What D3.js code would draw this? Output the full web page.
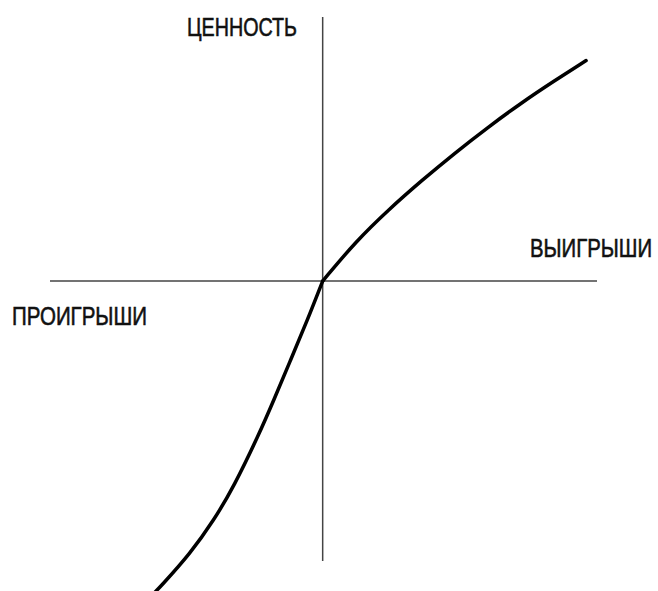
<!DOCTYPE html>
<html>
<head>
<meta charset="utf-8">
<script src="https://cdn.jsdelivr.net/npm/d3@7"></script>
<style>
	html, body { margin: 0; padding: 0; background: #fff; }
	svg { display: block; }
	.axis-line { stroke: #444; stroke-width: 1.5; }
	.value-curve { fill: none; stroke: #000; stroke-width: 3.5; stroke-linecap: round; }
	.axis-label { font-family: 'Liberation Sans Narrow', 'Liberation Sans', Arial, sans-serif; font-size: 26px; font-weight: normal; fill: #111; stroke: #111; stroke-width: 0.6; }
</style>
</head>
<body>
<div class="chart-container"></div>
<script>
'use strict';

// value function, gains side (x = gain, y = value)
var gainsX = [0, 1, 2, 3, 4, 5, 6, 7, 7.97];
var gainsY = [0, 1.2, 2.17, 3.05, 3.88, 4.66, 5.39, 6.06, 6.68];

// losses side (x = loss, y = value)
var lossesX = [0, -0.46, -0.97, -1.48, -1.93, -2.69, -3.29, -4.0, -4.91, -5.1];
var lossesY = [0, -1.18, -2.39, -3.61, -4.65, -6.23, -7.24, -8.25, -9.26, -9.45];

var axisLabels = {
	value: 'ЦЕННОСТЬ',
	gains: 'ВЫИГРЫШИ',
	losses: 'ПРОИГРЫШИ'
};

var X_DOMAIN = [-8.25, 8.3];
var Y_DOMAIN = [-8.48, 8.0];

var createChart = function() {
	var
		width = 658,
		height = 591,
		svg = d3.select('.chart-container').append('svg')
			.attr('width', width)
			.attr('height', height),
		x = d3.scaleLinear().domain(X_DOMAIN).range([50, 597]),
		y = d3.scaleLinear().domain(Y_DOMAIN).range([561, 17]);

	// axes
	svg.append('line')
		.attr('class', 'axis-line')
		.attr('x1', x(X_DOMAIN[0])).attr('x2', x(X_DOMAIN[1]))
		.attr('y1', y(0)).attr('y2', y(0));

	svg.append('line')
		.attr('class', 'axis-line')
		.attr('x1', x(0)).attr('x2', x(0))
		.attr('y1', y(Y_DOMAIN[1])).attr('y2', y(Y_DOMAIN[0]));

	// curve, one piece on each side of the reference point
	var toPoints = function(xs, ys) {
		return xs.map(function(d, i) { return [d, ys[i]]; });
	};

	var line = d3.line()
		.x(function(d) { return x(d[0]); })
		.y(function(d) { return y(d[1]); })
		.curve(d3.curveBasis);

	svg.selectAll('path.value-curve')
		.data([toPoints(lossesX, lossesY), toPoints(gainsX, gainsY)])
		.enter()
		.append('path')
		.attr('class', 'value-curve')
		.attr('d', line);

	// labels
	var labels = [
		{ text: axisLabels.value, x: 187, y: 36, len: 110 },
		{ text: axisLabels.gains, x: 530, y: 257, len: 122 },
		{ text: axisLabels.losses, x: 12, y: 325, len: 135 }
	];

	svg.selectAll('text.axis-label')
		.data(labels)
		.enter()
		.append('text')
		.attr('class', 'axis-label')
		.attr('x', function(d) { return d.x; })
		.attr('y', function(d) { return d.y; })
		.attr('textLength', function(d) { return d.len; })
		.attr('lengthAdjust', 'spacingAndGlyphs')
		.text(function(d) { return d.text; });
};

createChart();
</script>
</body>
</html>
